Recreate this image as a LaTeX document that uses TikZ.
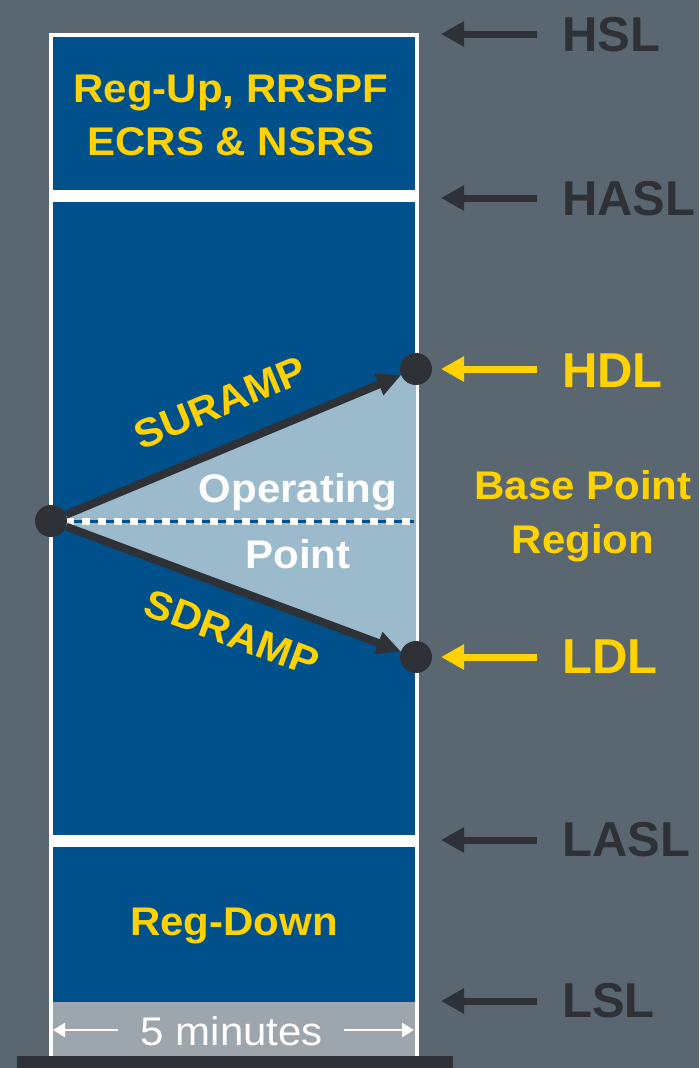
\documentclass[tikz,border=0pt]{standalone}
\usepackage{fontspec}
\setmainfont{Liberation Sans}
\newfontfamily\widesans{Liberation Sans}[FakeStretch=1.05]
\usetikzlibrary{arrows.meta}
\definecolor{bgslate}{HTML}{5B6770}
\definecolor{inkdark}{HTML}{2E3237}
\definecolor{bandblue}{HTML}{00508C}
\definecolor{zonelight}{HTML}{9BBACC}
\definecolor{gold}{HTML}{FFD200}
\definecolor{stripgray}{HTML}{9DA5AD}
\begin{document}
\begin{tikzpicture}[x=1pt,y=-1pt,
  lbl/.style={font=\widesans\fontsize{40}{40}\selectfont\bfseries, inner sep=0pt, anchor=base},
  goldtxt/.style={lbl, text=gold},
  whitetxt/.style={lbl, text=white},
  level/.style={font=\fontsize{49}{49}\selectfont\bfseries, inner sep=0pt, anchor=base west},
  dot/.style={circle, fill=inkdark, minimum size=32pt, inner sep=0pt},
  ramp/.style={draw=inkdark, line width=8pt, -{Triangle[length=24pt,width=22pt]}},
  levelarrow/.style={line width=7pt, -{Triangle[length=23pt,width=24pt]}},
  spanarrow/.style={draw=white, line width=2.5pt, -{Triangle[length=12pt,width=14pt]}}]

% canvas
\useasboundingbox (0,0) rectangle (699,1068);
\fill[bgslate] (0,0) rectangle (699,1068);

% column with its bands
\fill[white] (49,33) rectangle (419,1056);
\fill[bandblue] (53,37) rectangle (415,190);
\fill[bandblue] (53,202) rectangle (415,835);
\fill[bandblue] (53,847) rectangle (415,1002);
\fill[stripgray] (53,1002) rectangle (415,1056);
\fill[inkdark] (17,1056) rectangle (453,1068);

% base point region
\coordinate (opC) at (51,521);
\coordinate (hdlC) at (416,369);
\coordinate (ldlC) at (416,657);
\fill[zonelight] (opC) -- (hdlC) -- (ldlC) -- cycle;
\coordinate (dashA) at (64,521);
\coordinate (dashB) at (414,521);
\draw[bandblue, line width=3pt] (dashA) -- (dashB);
\draw[white, line width=7pt, dash pattern=on 8pt off 8pt, dash phase=-2pt] (dashA) -- (dashB);

% dispatch points
\node[dot] (op) at (opC) {};
\node[dot] (hdl) at (hdlC) {};
\node[dot] (ldl) at (ldlC) {};

% ramps
\draw[ramp] (op) -- (hdl);
\draw[ramp] (op) -- (ldl);
\node[goldtxt, anchor=center, rotate=22.6] (suramp) at (220,403) {SURAMP};
\node[goldtxt, anchor=center, rotate=-20.4] (sdramp) at (232,633) {SDRAMP};

% band labels
\node[goldtxt] (regup) at (231,102) {Reg-Up, RRSPF};
\node[goldtxt] (ecrs) at (231,155) {ECRS \& NSRS};
\node[goldtxt] (regdn) at (234,935) {Reg-Down};
\node[whitetxt] (oper) at (298,502) {Operating};
\node[whitetxt] (point) at (298,568) {Point};
\node[goldtxt] (bpr1) at (583,499) {Base Point};
\node[goldtxt] (bpr2) at (583,553) {Region};

% interval span
\node[lbl, font=\widesans\fontsize{40}{40}\selectfont, text=white] (five) at (232,1045) {5 minutes};
\coordinate (spanL) at (53,1030);
\coordinate (spanLt) at (118,1030);
\coordinate (spanR) at (414,1030);
\coordinate (spanRt) at (344,1030);
\draw[spanarrow] (spanLt) -- (spanL);
\draw[spanarrow] (spanRt) -- (spanR);

% limit labels with pointers
\foreach \nm/\yy/\base/\clr in {HSL/34/51/inkdark, HASL/198/215/inkdark, HDL/369/387/gold,
                               LDL/657/673/gold, LASL/840/856/inkdark, LSL/1001/1017/inkdark}{
  \node[level, text=\clr] (t\nm) at (562,\base) {\nm};
  \coordinate (s\nm) at (537,\yy);
  \coordinate (e\nm) at (441,\yy);
  \draw[levelarrow, draw=\clr, fill=\clr] (s\nm) -- (e\nm);
}
\end{tikzpicture}
\end{document}
